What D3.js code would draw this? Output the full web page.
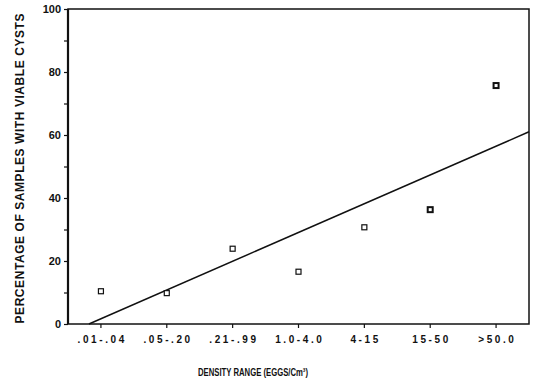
<!DOCTYPE html>
<html>
<head>
<meta charset="utf-8">
<script src="https://cdn.jsdelivr.net/npm/d3@7"></script>
<style>
  body { margin: 0; background: #fff; }
  text { font-family: "Liberation Sans", Arial, sans-serif; font-weight: bold; fill: #111; }
</style>
</head>
<body>
<div id="chart"></div>
<script>
// Data
var densityRanges = [".01-.04", ".05-.20", ".21-.99", "1.0-4.0", "4-15", "15-50", ">50.0"];
var viablePct = [10.4, 9.8, 23.9, 16.6, 30.7, 36.3, 75.7];
var yTicks = [0, 20, 40, 60, 80, 100];

// Chart Parameters
var svgWidth = 535;
var svgHeight = 384;

var margin = {
  top: 9,
  right: 6,
  bottom: 60,
  left: 68
};

var width = svgWidth - margin.left - margin.right;
var height = svgHeight - margin.top - margin.bottom;

var svg = d3.select("#chart")
  .append("svg")
  .attr("width", svgWidth)
  .attr("height", svgHeight);

var chartGroup = svg.append("g")
  .attr("transform", `translate(${margin.left}, ${margin.top})`);

// scales
var xBand = d3.scaleBand()
  .domain(densityRanges)
  .range([0, width]);

var yLinearScale = d3.scaleLinear()
  .domain([0, 100])
  .range([height, 0]);

var xCenter = d => xBand(d) + xBand.bandwidth() / 2;

// y axis: minor ticks every 10, labels every 20
var leftAxis = d3.axisLeft(yLinearScale)
  .tickValues(d3.range(0, 101, 10))
  .tickSize(4)
  .tickPadding(3)
  .tickFormat(d => yTicks.indexOf(d) >= 0 ? d : "");

var yAxis = chartGroup.append("g")
  .call(leftAxis);
yAxis.select(".domain").remove();
yAxis.selectAll("line").attr("stroke", "#111").attr("stroke-width", 1.2);
yAxis.selectAll("text")
  .attr("font-size", "11px")
  .attr("font-family", "Liberation Sans, Arial, sans-serif")
  .attr("font-weight", "bold")
  .attr("fill", "#111");

// x axis
var bottomAxis = d3.axisBottom(xBand)
  .tickSize(4)
  .tickPadding(8);

var xAxis = chartGroup.append("g")
  .attr("transform", `translate(0, ${height})`)
  .call(bottomAxis);
xAxis.select(".domain").remove();
xAxis.selectAll("line").attr("stroke", "#111").attr("stroke-width", 1.2);
xAxis.selectAll("text")
  .attr("font-size", "10px")
  .attr("font-family", "Liberation Sans, Arial, sans-serif")
  .attr("font-weight", "bold")
  .attr("fill", "#111")
  .attr("letter-spacing", "2.6px")
  .attr("dx", "1.3px");

// frame
chartGroup.append("rect")
  .attr("x", 0)
  .attr("y", 0)
  .attr("width", width)
  .attr("height", height)
  .attr("fill", "none")
  .attr("stroke", "#111")
  .attr("stroke-width", 1.5);

chartGroup.append("line")
  .attr("x1", 0).attr("x2", 0)
  .attr("y1", 0).attr("y2", height)
  .attr("stroke", "#111")
  .attr("stroke-width", 2.2);

// least squares fit over category index
var idx = densityRanges.map((d, i) => i);
var mx = d3.mean(idx);
var my = d3.mean(viablePct);
var slope = d3.sum(idx, i => (i - mx) * (viablePct[i] - my)) / d3.sum(idx, i => (i - mx) * (i - mx));
var intercept = my - slope * mx;

var idxScale = d3.scaleLinear()
  .domain([0, densityRanges.length - 1])
  .range([xCenter(densityRanges[0]), xCenter(densityRanges[densityRanges.length - 1])]);

var startIdx = -intercept / slope;
var endIdx = idxScale.invert(width);

chartGroup.append("line")
  .attr("x1", idxScale(startIdx))
  .attr("y1", yLinearScale(0))
  .attr("x2", idxScale(endIdx))
  .attr("y2", yLinearScale(intercept + slope * endIdx))
  .attr("stroke", "#111")
  .attr("stroke-width", 1.5);

// points
chartGroup.selectAll("rect.pt")
  .data(viablePct)
  .enter()
  .append("rect")
  .classed("pt", true)
  .attr("x", (d, i) => xCenter(densityRanges[i]) - 2.5)
  .attr("y", d => yLinearScale(d) - 2.5)
  .attr("width", 5)
  .attr("height", 5)
  .attr("fill", "#fff")
  .attr("stroke", "#111")
  .attr("stroke-width", (d, i) => i >= 5 ? 2 : 1.2);

// axis titles
svg.append("text")
  .attr("transform", `translate(24, ${margin.top + height / 2 + 2}) rotate(-90)`)
  .attr("text-anchor", "middle")
  .attr("font-size", "12px")
  .attr("textLength", 310)
  .attr("lengthAdjust", "spacing")
  .text("PERCENTAGE OF SAMPLES WITH VIABLE CYSTS");

svg.append("text")
  .attr("x", 253)
  .attr("y", 376)
  .attr("text-anchor", "middle")
  .attr("font-size", "11.5px")
  .attr("textLength", 110)
  .attr("lengthAdjust", "spacingAndGlyphs")
  .text("DENSITY RANGE (EGGS/Cm³)");
</script>
</body>
</html>
